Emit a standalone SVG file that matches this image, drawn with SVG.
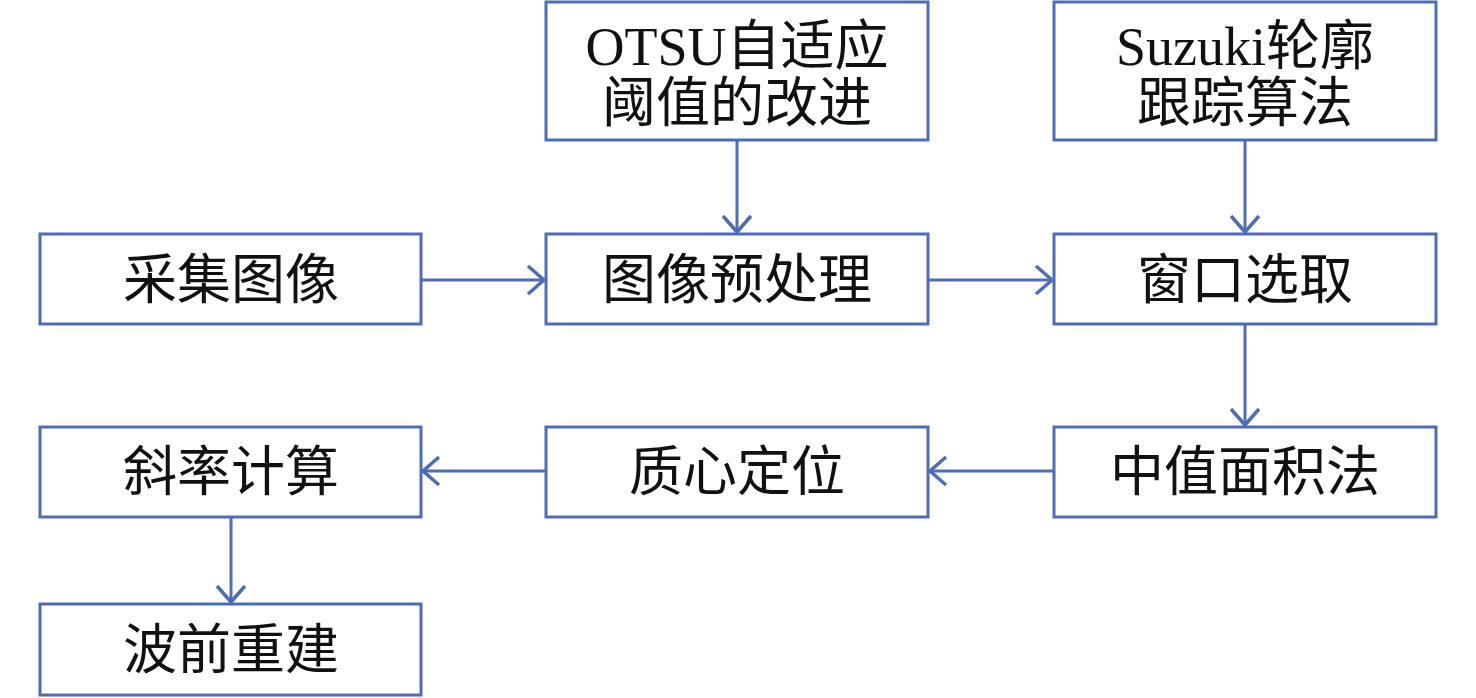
<svg xmlns="http://www.w3.org/2000/svg" width="1476" height="698" viewBox="0 0 1476 698">
<defs>
<style>
.box{fill:#fff;stroke:#4F6DB3;stroke-width:3}
.t{font-family:"Liberation Serif","Noto Sans CJK SC",serif;font-size:54px;fill:#111;text-anchor:middle}
.c{stroke:#4F6DB3;stroke-width:3;fill:none}
</style>
<marker id="ah" markerUnits="userSpaceOnUse" markerWidth="40" markerHeight="40" refX="0" refY="0" viewBox="-20 -20 40 40" orient="auto">
<path d="M-16,-14 L0,0 L-16,14" fill="none" stroke="#4F6DB3" stroke-width="3.5"/>
</marker>
</defs>
<rect width="1476" height="698" fill="#fff"/>
<g id="otsu"><rect class="box" x="546" y="2" width="382" height="138"/><text class="t" x="737" y="65">OTSU自适应</text><text class="t" x="737" y="122">阈值的改进</text></g>
<g id="suzuki"><rect class="box" x="1054" y="2" width="382" height="138"/><text class="t" x="1245" y="65">Suzuki轮廓</text><text class="t" x="1245" y="122">跟踪算法</text></g>
<g id="caiji"><rect class="box" x="40" y="234" width="381" height="90"/><text class="t" x="231" y="299">采集图像</text></g>
<g id="yuchuli"><rect class="box" x="546" y="234" width="382" height="90"/><text class="t" x="737" y="299">图像预处理</text></g>
<g id="chuangkou"><rect class="box" x="1054" y="234" width="382" height="90"/><text class="t" x="1245" y="299">窗口选取</text></g>
<g id="xielv"><rect class="box" x="40" y="427" width="381" height="90"/><text class="t" x="231" y="491">斜率计算</text></g>
<g id="zhixin"><rect class="box" x="546" y="427" width="382" height="90"/><text class="t" x="737" y="491">质心定位</text></g>
<g id="zhongzhi"><rect class="box" x="1054" y="427" width="382" height="90"/><text class="t" x="1245" y="491">中值面积法</text></g>
<g id="boqian"><rect class="box" x="40" y="604" width="381" height="91"/><text class="t" x="231" y="669">波前重建</text></g>
<g id="connectors">
<path class="c" d="M421,280 L544,280" marker-end="url(#ah)"/>
<path class="c" d="M928,280 L1052,280" marker-end="url(#ah)"/>
<path class="c" d="M737,140 L737,232" marker-end="url(#ah)"/>
<path class="c" d="M1245,140 L1245,232" marker-end="url(#ah)"/>
<path class="c" d="M1245,324 L1245,425" marker-end="url(#ah)"/>
<path class="c" d="M1054,471 L930,471" marker-end="url(#ah)"/>
<path class="c" d="M546,471 L423,471" marker-end="url(#ah)"/>
<path class="c" d="M231,517 L231,602" marker-end="url(#ah)"/>
</g>
</svg>
